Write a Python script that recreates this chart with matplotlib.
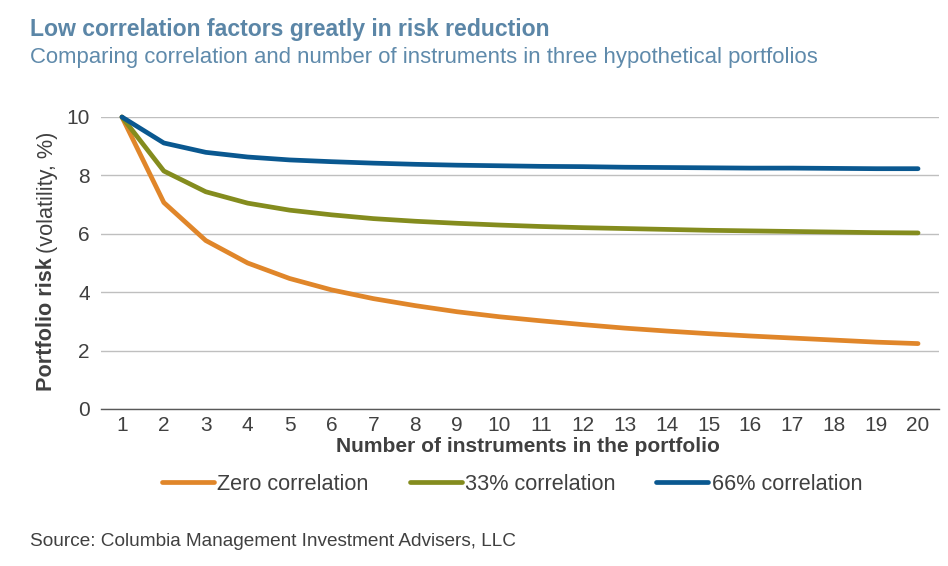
import matplotlib
matplotlib.use("Agg")
import matplotlib.pyplot as plt

regular = "Liberation Sans"

instruments = list(range(1, 21))
zero_corr = [10.0, 7.07, 5.77, 5.00, 4.47, 4.08, 3.78, 3.54, 3.33, 3.16,
             3.02, 2.89, 2.77, 2.67, 2.58, 2.50, 2.43, 2.36, 2.29, 2.24]
corr_33 = [10.0, 8.15, 7.44, 7.05, 6.81, 6.65, 6.52, 6.43, 6.36, 6.30,
           6.25, 6.21, 6.18, 6.15, 6.12, 6.10, 6.08, 6.06, 6.04, 6.03]
corr_66 = [10.0, 9.11, 8.79, 8.63, 8.53, 8.47, 8.42, 8.38, 8.35, 8.33,
           8.31, 8.30, 8.28, 8.27, 8.26, 8.25, 8.25, 8.24, 8.23, 8.23]
series_labels = ["Zero correlation", "33% correlation", "66% correlation"]
colors = ["#e0862a", "#848c1e", "#0a5890"]
y_ticks = [0, 2, 4, 6, 8, 10]

title = "Low correlation factors greatly in risk reduction"
subtitle = "Comparing correlation and number of instruments in three hypothetical portfolios"
source = "Source: Columbia Management Investment Advisers, LLC"
xlabel = "Number of instruments in the portfolio"

W, H = 948, 566
fig = plt.figure(figsize=(W / 100, H / 100), dpi=100)
fig.patch.set_facecolor("white")

ax = fig.add_axes([101 / W, 1 - 409 / H, (939 - 101) / W, (409 - 117) / H])
lines = []
for vals, c, lab in zip([zero_corr, corr_33, corr_66], colors, series_labels):
    ln, = ax.plot(instruments, vals, color=c, lw=3.4, label=lab, clip_on=False,
                  solid_capstyle="round", solid_joinstyle="round", zorder=3)
    lines.append(ln)

ax.set_xlim(0.5, 20.5)
ax.set_ylim(0, 10)
ax.set_xticks(instruments)
ax.set_yticks(y_ticks)
for s in ["top", "right", "left"]:
    ax.spines[s].set_visible(False)
ax.spines["bottom"].set_color("#595959")
ax.spines["bottom"].set_linewidth(1.0)
ax.grid(axis="y", color="#bfbfbf", lw=1.0)
ax.set_axisbelow(True)
ax.tick_params(length=0, labelsize=15, labelcolor="#404040")
ax.tick_params(axis="x", pad=5)
ax.tick_params(axis="y", pad=8)
for t in ax.get_xticklabels() + ax.get_yticklabels():
    t.set_fontfamily(regular)

# titles
fig.text(30 / W, 1 - 36 / H, title, fontsize=16.6, fontweight="bold", color="#5b86a7",
         fontfamily=regular, va="baseline")
fig.text(30 / W, 1 - 63.5 / H, subtitle, fontsize=15.9, color="#5f8aab",
         fontfamily=regular, va="baseline")
fig.text(30 / W, 1 - 546 / H, source, fontsize=13.7, color="#404040",
         fontfamily=regular, va="baseline")

# x label
fig.text(528 / W, 1 - 447 / H, xlabel, fontsize=15.1, fontweight="bold", color="#404040",
         fontfamily=regular, ha="center", va="center")

# y label (mixed weight)
fig.canvas.draw()
r = fig.canvas.get_renderer()
t1 = fig.text(47 / W, 1 - 391 / H, "Portfolio risk", fontsize=15.6, fontweight="bold",
              color="#404040", fontfamily=regular, rotation=90, rotation_mode="anchor",
              ha="left", va="center")
bb = t1.get_window_extent(renderer=r)
t2 = fig.text(47 / W, (bb.y1 + 4) / H, "(volatility, %)", fontsize=15.6,
              color="#404040", fontfamily=regular, rotation=90, rotation_mode="anchor",
              ha="left", va="center")

leg = fig.legend(handles=lines, loc="center", bbox_to_anchor=(512 / W, 1 - 484 / H),
                 ncol=3, frameon=False, handlelength=2.4, handletextpad=0.15,
                 columnspacing=1.9, prop={"family": regular, "size": 15.6})
for t in leg.get_texts():
    t.set_color("#404040")

fig.savefig("out.png", dpi=100, facecolor="white")
